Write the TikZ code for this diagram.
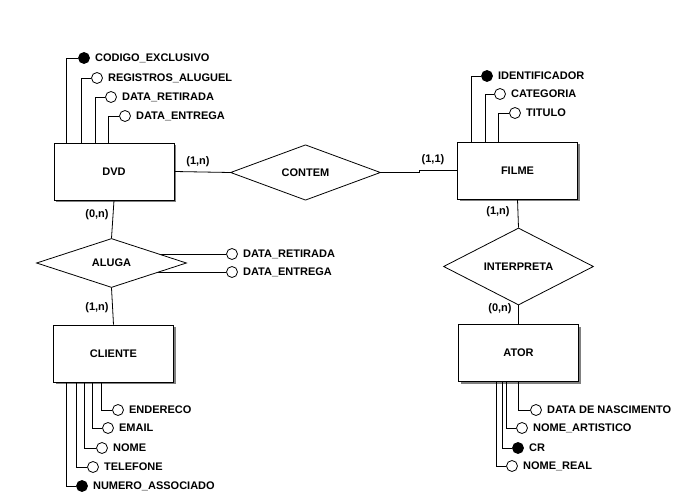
\documentclass[tikz,border=0pt]{standalone}
\usepackage{fontspec}
\setmainfont{Liberation Sans}
\usetikzlibrary{shapes.geometric,shadows,calc,positioning}
\pgfdeclarelayer{background}
\pgfsetlayers{background,main}
\begin{document}
\begin{tikzpicture}[x=1pt,y=-1pt,
  font=\bfseries\fontsize{11}{12}\selectfont,
  conn/.style={line width=0.8pt},
  entity/.style={draw, fill=white, line width=0.8pt, minimum width=120pt, minimum height=57pt,
    drop shadow={shadow xshift=2pt, shadow yshift=-2pt, fill=black!50, opacity=1}},
  rel/.style={draw, diamond, fill=white, line width=0.8pt, inner sep=0pt, minimum width=150pt, minimum height=49pt},
  attr/.style={circle, draw, fill=white, line width=0.8pt, minimum size=11pt, inner sep=0pt},
  keyattr/.style={attr, fill=black},
  atext/.style={anchor=west, inner sep=0pt},
  card/.style={inner sep=0pt}]
\useasboundingbox (0,0) rectangle (683,497);

% entities
\node[entity] (dvd) at (114,171.5) {DVD};
\node[entity] (filme) at (517.5,170.5) {FILME};
\node[entity] (cli) at (113.5,353.5) {CLIENTE};
\node[entity] (ator) at (518.5,353) {ATOR};

% relationships
\node[rel] (contem) at (305.5,172.5) {CONTEM};
\node[rel] (aluga) at (111.5,263) {ALUGA};
\node[rel] (interp) at (518.5,266.5) {INTERPRETA};

% DVD attributes
\node[keyattr] (d1) at (84,58) {};
\node[attr] (d2) at (97,78) {};
\node[attr] (d3) at (111,97) {};
\node[attr] (d4) at (125,116) {};
\node[atext, right=5pt of d1] (d1t) {CODIGO\_EXCLUSIVO};
\node[atext, right=5pt of d2] (d2t) {REGISTROS\_ALUGUEL};
\node[atext, right=5pt of d3] (d3t) {DATA\_RETIRADA};
\node[atext, right=5pt of d4] (d4t) {DATA\_ENTREGA};
\draw[conn] ($(dvd.north west)+(13,0)$) |- (d1);
\draw[conn] ($(dvd.north west)+(28,0)$) |- (d2);
\draw[conn] ($(dvd.north west)+(42,0)$) |- (d3);
\draw[conn] ($(dvd.north west)+(55,0)$) |- (d4);

% FILME attributes
\node[keyattr] (f1) at (487,76) {};
\node[attr] (f2) at (500,94) {};
\node[attr] (f3) at (515,113) {};
\node[atext, right=5pt of f1] (f1t) {IDENTIFICADOR};
\node[atext, right=5pt of f2] (f2t) {CATEGORIA};
\node[atext, right=5pt of f3] (f3t) {TITULO};
\draw[conn] ($(filme.north west)+(14.5,0)$) |- (f1);
\draw[conn] ($(filme.north west)+(28.5,0)$) |- (f2);
\draw[conn] ($(filme.north west)+(41.5,0)$) |- (f3);

% CLIENTE attributes
\node[attr] (c1) at (118,410) {};
\node[attr] (c2) at (108,428) {};
\node[attr] (c3) at (102,448) {};
\node[attr] (c4) at (93,467) {};
\node[keyattr] (c5) at (82,486) {};
\node[atext, right=5pt of c1] (c1t) {ENDERECO};
\node[atext, right=5pt of c2] (c2t) {EMAIL};
\node[atext, right=5pt of c3] (c3t) {NOME};
\node[atext, right=5pt of c4] (c4t) {TELEFONE};
\node[atext, right=5pt of c5] (c5t) {NUMERO\_ASSOCIADO};
\draw[conn] ($(cli.south west)+(48,0)$) |- (c1);
\draw[conn] ($(cli.south west)+(39,0)$) |- (c2);
\draw[conn] ($(cli.south west)+(31,0)$) |- (c3);
\draw[conn] ($(cli.south west)+(23,0)$) |- (c4);
\draw[conn] ($(cli.south west)+(13,0)$) |- (c5);

% ATOR attributes
\node[attr] (a1) at (536,410) {};
\node[attr] (a2) at (522,428) {};
\node[keyattr] (a3) at (518,448) {};
\node[attr] (a4) at (512,466) {};
\node[atext, right=5pt of a1] (a1t) {DATA DE NASCIMENTO};
\node[atext, right=5pt of a2] (a2t) {NOME\_ARTISTICO};
\node[atext, right=5pt of a3] (a3t) {CR};
\node[atext, right=5pt of a4] (a4t) {NOME\_REAL};
\draw[conn] ($(ator.south west)+(60.5,0)$) |- (a1);
\draw[conn] ($(ator.south west)+(48.5,0)$) |- (a2);
\draw[conn] ($(ator.south west)+(44.5,0)$) |- (a3);
\draw[conn] ($(ator.south west)+(38.5,0)$) |- (a4);

% ALUGA attributes
\node[attr] (r1) at (232,254) {};
\node[attr] (r2) at (232,272) {};
\node[atext, right=5pt of r1] (r1t) {DATA\_RETIRADA};
\node[atext, right=5pt of r2] (r2t) {DATA\_ENTREGA};
\begin{pgfonlayer}{background}
\draw[conn] (aluga.center |- r1) -- (r1);
\draw[conn] (aluga.center |- r2) -- (r2);
\end{pgfonlayer}

% relationship connectors
\draw[conn] (dvd.east) -- (contem.west);
\draw[conn] (contem.east) -- ++(38,0) |- (filme.west);
\draw[conn] (dvd.south) -- (aluga.north);
\draw[conn] (aluga.south) -- (cli.north);
\draw[conn] (filme.south) -- (interp.north);
\draw[conn] (interp.south) -- (ator.north);

% cardinalities
\node[card] (k1) at (198,162) {(1,n)};
\node[card] (k2) at (433,160) {(1,1)};
\node[card] (k3) at (97,215) {(0,n)};
\node[card] (k4) at (97,308) {(1,n)};
\node[card] (k5) at (498,212) {(1,n)};
\node[card] (k6) at (500,309) {(0,n)};
\end{tikzpicture}
\end{document}
